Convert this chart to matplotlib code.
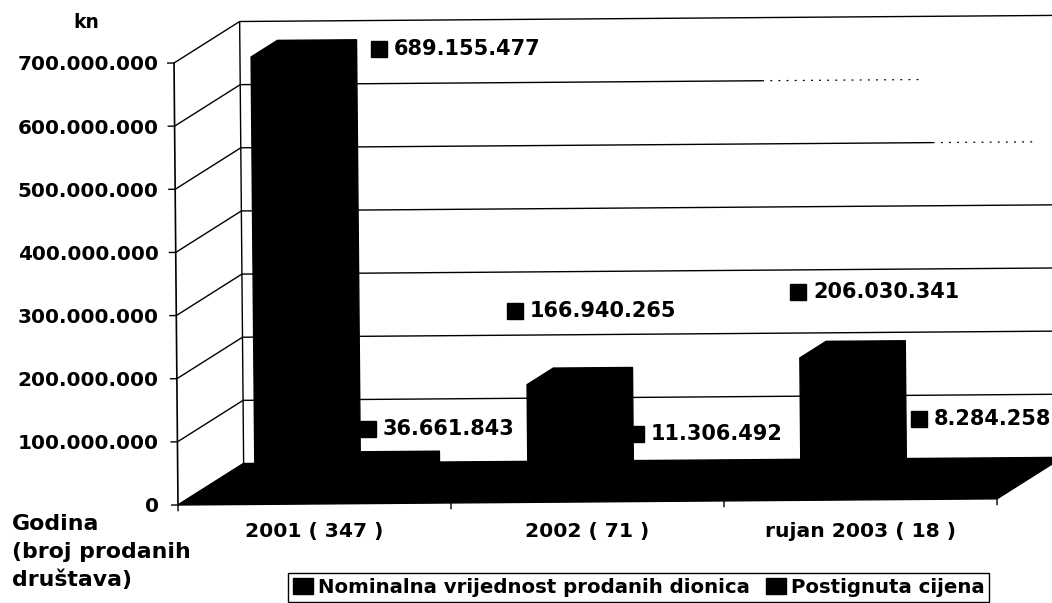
import matplotlib
matplotlib.use("Agg")
import matplotlib.pyplot as plt
from matplotlib.patches import Patch

# ---- data
categories = ["2001 ( 347 )", "2002 ( 71 )", "rujan 2003 ( 18 )"]
series_names = ["Nominalna vrijednost prodanih dionica", "Postignuta cijena"]
nominal = [689155477, 166940265, 206030341]
achieved = [36661843, 11306492, 8284258]
y_ticks = [0, 100000000, 200000000, 300000000, 400000000, 500000000, 600000000, 700000000]

# ---- label anchor positions in pixels (square centre x, y)
nominal_label_px = [(379, 49), (515, 311), (798, 292)]
achieved_label_px = [(368, 429), (636, 434), (919, 419)]

W, H = 1052, 603
AX_L, AX_R, AX_B, AX_T = 178, 997, 505, 63
PX_CAT = (AX_R - AX_L) / 3
PX_VAL = (AX_B - AX_T) / 700e6
DEPTH_X, DEPTH_Y = 66, 41
TILT_Y, TILT_X = 0.0075, 0.009
FONT = "DejaVu Sans"

fig = plt.figure(figsize=(W / 100, H / 100), dpi=100, facecolor="white")
ax = fig.add_axes([AX_L / W, 1 - AX_B / H, (AX_R - AX_L) / W, (AX_B - AX_T) / H])
ax.set_xlim(0, 3)
ax.set_ylim(0, 700e6)
for s in ax.spines.values():
    s.set_visible(False)
ax.patch.set_alpha(0)


def proj(cat, val, depth=0.0):
    """oblique 3-D projection (plus the slight scan tilt) into data units"""
    x = cat * PX_CAT + depth * DEPTH_X
    y = val * PX_VAL + depth * DEPTH_Y
    x2 = x - TILT_X * y
    y2 = y + TILT_Y * x
    return x2 / PX_CAT, y2 / PX_VAL


def line(p, q, **kw):
    a, b = proj(*p), proj(*q)
    kw.setdefault("color", "black")
    kw.setdefault("lw", 1.0)
    ax.plot([a[0], b[0]], [a[1], b[1]], clip_on=False, solid_capstyle="butt", **kw)


def face(points):
    xy = [proj(*p) for p in points]
    ax.fill([p[0] for p in xy], [p[1] for p in xy], color="black", lw=1.0, clip_on=False)


def cat_at_px(px):
    return (px - AX_L) / PX_CAT


# walls: how far each back gridline stays solid / dotted (pixel x at the front)
fade = {100e6: (1100, 1100), 200e6: (1100, 1100), 300e6: (1100, 1100), 400e6: (1100, 1100),
        500e6: (870, 970), 600e6: (700, 860), 700e6: (1100, 1100)}
for v in y_ticks:
    line((0, v, 0), (0, v, 1), lw=1.0)                # side wall diagonals
    line((0, v, 0), (cat_at_px(171), v, 0), lw=1.0)   # tick marks
    if v > 0:
        s_end, d_end = fade[v]
        line((0, v, 1), (cat_at_px(s_end), v, 1), lw=1.0)
        if d_end > s_end:
            a, b = proj(cat_at_px(s_end), v, 1), proj(cat_at_px(d_end), v, 1)
            ax.plot([a[0], b[0]], [a[1], b[1]], color="black", lw=0.9,
                    ls=(0, (1.5, 5)), clip_on=False)
line((0, 0, 0), (0, 700e6, 0), lw=1.2)
line((0, 0, 1), (0, 700e6, 1), lw=1.0)
for i in range(4):
    line((i, 0, 0), (i, -10e6, 0), lw=1.0)

# floor
face([(0, 0, 0), (3, 0, 0), (3, 0, 1), (0, 0, 1)])

# bars
D0, D1 = 0.30, 0.70
BW = 0.29
GAP = 0.21


def bar3d(c0, c1, v):
    face([(c0, 0, D0), (c1, 0, D0), (c1, v, D0), (c0, v, D0)])
    face([(c0, v, D0), (c1, v, D0), (c1, v, D1), (c0, v, D1)])
    face([(c1, 0, D0), (c1, 0, D1), (c1, v, D1), (c1, v, D0)])


for i, (a, b) in enumerate(zip(nominal, achieved)):
    bar3d(i + GAP, i + GAP + BW, a)
    bar3d(i + GAP + BW, i + GAP + 2 * BW, b)

# axes text
ax.set_yticks(y_ticks)
ax.set_yticklabels([f"{v:,}".replace(",", ".") for v in y_ticks],
                   family=FONT, weight="bold", fontsize=14.4)
ax.set_xticks([0.5, 1.5, 2.5])
ax.set_xticklabels(categories, family=FONT, weight="bold", fontsize=14.6)
ax.tick_params(axis="y", length=0, pad=14)
ax.tick_params(axis="x", length=0, pad=12)


def fig_xy(px, py):
    return px / W, 1 - py / H


def label_value(values, positions):
    for v, (px, py) in zip(values, positions):
        fx, fy = fig_xy(px, py)
        ax.plot([fx], [fy], marker="s", ms=11.5, color="black", ls="none",
                transform=fig.transFigure, clip_on=False)
        tx, ty = fig_xy(px + 15, py)
        fig.text(tx, ty, f"{v:,}".replace(",", "."), family=FONT, weight="bold",
                 fontsize=15.0, va="center", ha="left")


label_value(nominal, nominal_label_px)
label_value(achieved, achieved_label_px)

fx, fy = fig_xy(86, 22)
fig.text(fx, fy, "kn", family=FONT, weight="bold", fontsize=13.5, ha="center", va="center")
for t, py in zip(["Godina", "(broj prodanih", "društava)"], [524, 552, 580]):
    fx, fy = fig_xy(12, py)
    fig.text(fx, fy, t, family=FONT, weight="bold", fontsize=15.8, ha="left", va="center")

# legend
handles = [Patch(facecolor="black", edgecolor="black") for _ in series_names]
leg = fig.legend(handles, series_names, ncol=2, loc="lower left",
                 bbox_to_anchor=(288 / W, 1 - 602 / H), borderaxespad=0,
                 prop={"family": FONT, "weight": "bold", "size": 14.2},
                 frameon=True, fancybox=False, edgecolor="black", framealpha=1,
                 handlelength=1.0, handleheight=0.9, handletextpad=0.25,
                 columnspacing=0.85, borderpad=0.25)
leg.get_frame().set_linewidth(1.0)

fig.savefig("out.png", dpi=100)
